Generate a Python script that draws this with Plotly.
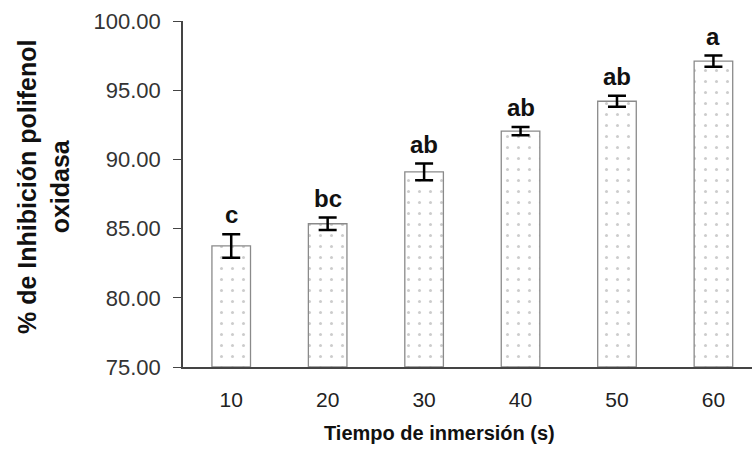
import plotly.graph_objects as go

categories = ["10", "20", "30", "40", "50", "60"]
means = [83.75, 85.35, 89.1, 92.05, 94.2, 97.1]
errors = [0.85, 0.45, 0.6, 0.3, 0.4, 0.4]
letters = ["c", "bc", "ab", "ab", "ab", "a"]
y_ticks = [75, 80, 85, 90, 95, 100]

L, R, T, B, W, H = 183, 0, 21, 94, 752, 461
pw, ph = W - L - R, H - T - B

fig = go.Figure()
fig.add_trace(go.Bar(
    x=list(range(len(categories))), y=[m - 75 for m in means], base=75,
    width=0.4,
    marker=dict(color="white",
                line=dict(color="#8a8a8a", width=1.3),
                pattern=dict(shape=".", size=11, solidity=0.06, fgcolor="#999999", bgcolor="white")),
    error_y=dict(type="data", array=errors, visible=True, color="black", thickness=2.5, width=9),
))

for i, (m, e, l) in enumerate(zip(means, errors, letters)):
    fig.add_annotation(x=i, y=m + e, text="<b>" + l + "</b>", showarrow=False,
                       yanchor="bottom", yshift=4,
                       font=dict(family="Arial", size=24, color="#111111"))

# axis titles
fig.add_annotation(xref="paper", yref="paper", x=(439 - L) / pw, y=-(433 - (H - B)) / ph,
                   text="<b>Tiempo de inmersión (s)</b>", showarrow=False,
                   xanchor="center", yanchor="middle",
                   font=dict(family="Arial", size=20, color="#111111"))
fig.add_annotation(xref="paper", yref="paper", x=(43 - L) / pw, y=((H - B) - 187) / ph,
                   text="<b>% de Inhibición polifenol<br>oxidasa</b>", showarrow=False,
                   textangle=-90, xanchor="center", yanchor="middle",
                   font=dict(family="Arial", size=25, color="#111111"))

fig.update_layout(
    width=W, height=H,
    margin=dict(l=L, r=R, t=T, b=B),
    plot_bgcolor="white", paper_bgcolor="white",
    showlegend=False,
    font=dict(family="Arial", color="#222222"),
)
fig.update_xaxes(
    range=[-0.5, 5.4],
    tickmode="array", tickvals=list(range(len(categories))), ticktext=categories,
    tickfont=dict(size=21, color="#222222"),
    ticklabelstandoff=13,
    showline=True, linecolor="#444444", linewidth=1.5,
    ticks="", showgrid=False, zeroline=False,
)
fig.update_yaxes(
    range=[75, 100],
    tickmode="array", tickvals=y_ticks, ticktext=[f"{v:.2f}" for v in y_ticks],
    tickfont=dict(size=22, color="#333333"),
    ticklabelstandoff=8,
    showline=True, linecolor="#444444", linewidth=1.5,
    ticks="outside", ticklen=8, tickcolor="#444444",
    showgrid=False, zeroline=False,
)

fig.write_html("out.html")
